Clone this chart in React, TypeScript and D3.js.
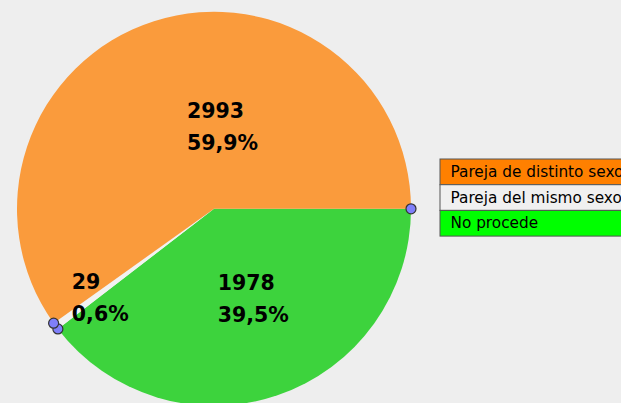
import React from "react";
import * as d3 from "d3";

const categories = ["No procede", "Pareja del mismo sexo", "Pareja de distinto sexo"];
const values = [1978, 29, 2993];
const percentLabels = ["39,5%", "0,6%", "59,9%"];
const legendOrder = ["Pareja de distinto sexo", "Pareja del mismo sexo", "No procede"];

const sliceColors: Record<string, string> = {
  "No procede": "#3dd33d",
  "Pareja del mismo sexo": "#f2f2f2",
  "Pareja de distinto sexo": "#fa9b3c",
};
const legendColors: Record<string, string> = {
  "No procede": "#00ff00",
  "Pareja del mismo sexo": "#f0f0f0",
  "Pareja de distinto sexo": "#ff8000",
};
// label nudges relative to arc centroid (layout)
const labelNudge: Record<string, [number, number]> = {
  "No procede": [-28, -12],
  "Pareja del mismo sexo": [-63, 22],
  "Pareja de distinto sexo": [3, 3],
};

export default function App() {
  const W = 621, H = 403;
  const cx = 214, cy = 208.8, R = 197;
  const data = categories.map((c, i) => ({ c, v: values[i], p: percentLabels[i] }));
  const pie = d3
    .pie<any>()
    .sort(null)
    .value((d) => d.v)
    .startAngle(Math.PI / 2)
    .endAngle(Math.PI / 2 + 2 * Math.PI);
  const arcs = pie(data);
  const arc = d3.arc<any>().innerRadius(0).outerRadius(R);
  const pt = (a: number) => [cx + R * Math.sin(a), cy - R * Math.cos(a)];
  const points = arcs.slice(0, 2).map((a, i) => (i === 0 ? [a.startAngle, a.endAngle] : [a.endAngle])).flat();

  const lx = 440, ly = 159, rowH = 25.7;
  return (
    <svg width={W} height={H} style={{ position: "absolute", left: 0, top: 0, background: "#eeeeee" }}>
      <rect x={0} y={0} width={W} height={H} fill="#eeeeee" />
      <g transform={`translate(${cx},${cy})`}>
        {arcs.map((a) => (
          <path key={a.data.c} d={arc(a) as string} fill={sliceColors[a.data.c]} />
        ))}
      </g>
      {arcs.map((a) => {
        const [x, y] = arc.centroid(a);
        const [nx, ny] = labelNudge[a.data.c];
        const tx = cx + x + nx, ty = cy + y + ny;
        return (
          <g key={a.data.c + "l"} fontFamily="DejaVu Sans" fontWeight="bold" fontSize={20.5} fill="#000">
            <text x={tx} y={ty}>{a.data.v}</text>
            <text x={tx} y={ty + 32}>{a.data.p}</text>
          </g>
        );
      })}
      {points.map((ang, i) => {
        const [x, y] = pt(ang);
        return <circle key={i} cx={x} cy={y} r={5} fill="#7f7ffa" stroke="#333" strokeWidth={1.2} />;
      })}
      {legendOrder.map((c, i) => (
        <g key={c}>
          <rect x={lx} y={ly + i * rowH} width={W} height={rowH} fill={legendColors[c]} stroke="#555" strokeWidth={1} />
          <text x={lx + 10.5} y={ly + i * rowH + 18} fontFamily="DejaVu Sans" fontSize={15.3} fill="#000">
            {c}
          </text>
        </g>
      ))}
    </svg>
  );
}
